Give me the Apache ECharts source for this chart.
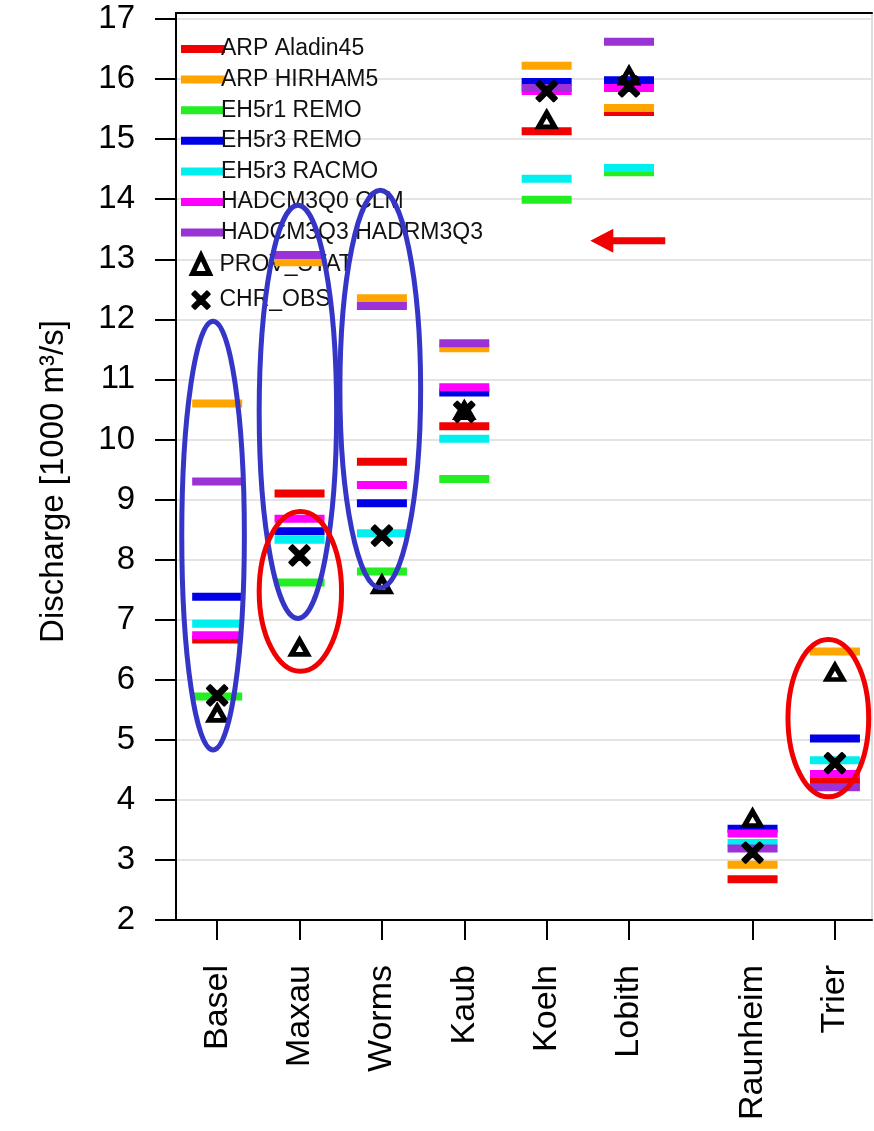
<!DOCTYPE html>
<html>
<head>
<meta charset="utf-8">
<script src="https://cdn.jsdelivr.net/npm/echarts@6/dist/echarts.min.js"></script>
<style>
html,body{margin:0;padding:0;background:#fff;}
#show{width:874px;height:1131px;}
</style>
</head>
<body>
<div id="show"></div>
<script>
// stations and their x positions (gap before Raunheim)
var stations = ['Basel','Maxau','Worms','Kaub','Koeln','Lobith','Raunheim','Trier'];
var stationPos = [1,2,3,4,5,6,7.5,8.5];
var yTicks = [2,3,4,5,6,7,8,9,10,11,12,13,14,15,16,17];

// discharge [1000 m3/s] per model, same order as stations
var aladin   = [6.67, 9.10, 9.63, 10.22, 15.13, 15.45, 2.68, 4.33];
var hirham   = [10.60, 12.95, 12.35, 11.52, 16.22, 15.52, 2.92, 6.47];
var eh5r1    = [5.72, 7.62, 7.80, 9.34, 13.99, 14.45, null, null];
var eh5r3    = [7.38, 8.47, 8.94, 10.78, 15.95, 15.98, 3.52, 5.02];
var racmo    = [6.93, 8.33, 8.44, 10.01, 14.34, 14.52, 3.28, 4.66];
var hadq0    = [6.74, 8.68, 9.24, 10.87, 15.80, 15.85, 3.44, 4.43];
var hadq3    = [9.30, 13.07, 12.22, 11.60, 15.85, 16.62, 3.19, 4.21];
var provStat = [5.44, 6.54, 7.58, 10.48, 15.32, 16.05, 3.69, 6.12];
var chrObs   = [5.74, 8.07, 8.40, 10.46, 15.80, 15.88, 3.12, 4.61];

var models = [
    {name:'ARP Aladin45', color:'#f00000', data:aladin},
    {name:'ARP HIRHAM5', color:'#ffa500', data:hirham},
    {name:'EH5r1 REMO', color:'#22ee22', data:eh5r1},
    {name:'EH5r3 REMO', color:'#0000e6', data:eh5r3},
    {name:'EH5r3 RACMO', color:'#00f0f0', data:racmo},
    {name:'HADCM3Q0 CLM', color:'#ff00ff', data:hadq0},
    {name:'HADCM3Q3 HADRM3Q3', color:'#9a32d6', data:hadq3}
];

// hand drawn marks on the figure, in data units
var ellipses = [
    {x:0.95, y:8.40, rx:0.38, ry:3.57, color:'#3535c8'},
    {x:1.98, y:10.46, rx:0.47, ry:3.44, color:'#3535c8'},
    {x:2.98, y:10.84, rx:0.49, ry:3.31, color:'#3535c8'},
    {x:2.01, y:7.47, rx:0.50, ry:1.33, color:'#f00000'},
    {x:8.42, y:5.36, rx:0.49, ry:1.31, color:'#f00000'}
];
var arrowTail = [6.44, 13.31];
var arrowTip = [5.53, 13.31];

var xPath = 'path://M0,3 L3,0 L10,7 L17,0 L20,3 L13,10 L20,17 L17,20 L10,13 L3,20 L0,17 L7,10 Z';
var font = 'Liberation Sans, Arimo, Helvetica, sans-serif';
var triStyle = {color: 'rgba(255,255,255,0)', borderColor: '#000', borderWidth: 5, opacity: 1};
var xStyle = {color: '#000', borderColor: '#000', borderWidth: 2.5, borderJoin: 'round', opacity: 1};

function pairs(vals) {
    var out = [];
    for (var i = 0; i < vals.length; i++) {
        if (vals[i] != null) out.push([stationPos[i], vals[i]]);
    }
    return out;
}

var myChart = echarts.init(document.getElementById('show'));

var series = [];
for (var i = 0; i < models.length; i++) {
    series.push({
        name: models[i].name,
        type: 'scatter',
        symbol: 'rect',
        symbolSize: [50, 8],
        itemStyle: {color: models[i].color, opacity: 1},
        data: pairs(models[i].data),
        z: 3
    });
}
series.push({
    name: 'PROV_STAT',
    type: 'scatter',
    symbol: 'triangle',
    symbolSize: [16, 14],
    itemStyle: triStyle,
    data: pairs(provStat),
    z: 4
});
series.push({
    name: 'CHR_OBS',
    type: 'scatter',
    symbol: xPath,
    symbolSize: 20,
    itemStyle: xStyle,
    data: pairs(chrObs),
    z: 5
});

var option = {
    animation: false,
    backgroundColor: '#fff',
    textStyle: {fontFamily: font},
    grid: {left: 176, right: 2, top: 13, bottom: 211, outerBoundsMode: 'none', containLabel: false},
    legend: [
        {
            orient: 'vertical',
            left: 176, top: 32,
            itemWidth: 44, itemHeight: 8, itemGap: 6.6,
            icon: 'rect',
            z: 1,
            selectedMode: false,
            textStyle: {fontSize: 23, color: '#111', lineHeight: 24, padding: [0, 0, 0, -9], fontFamily: font},
            data: models.map(function (m) { return m.name; })
        },
        {
            orient: 'vertical',
            left: 185, top: 248,
            itemWidth: 17, itemHeight: 18, itemGap: 12.6,
            z: 1,
            selectedMode: false,
            textStyle: {fontSize: 23, color: '#111', lineHeight: 18, padding: [0, 0, 0, 5], fontFamily: font},
            data: [
                {name: 'PROV_STAT', icon: 'triangle', itemStyle: triStyle},
                {name: 'CHR_OBS', icon: xPath, itemStyle: xStyle}
            ]
        }
    ],
    xAxis: [
        {
            type: 'value',
            min: 0.5, max: 8.95,
            axisLine: {show: true, lineStyle: {color: '#000', width: 2}},
            axisTick: {show: true, length: 20, customValues: stationPos, lineStyle: {color: '#000', width: 2}},
            axisLabel: {
                customValues: stationPos,
                rotate: 90,
                margin: 45,
                fontSize: 34,
                color: '#000',
                fontFamily: font,
                formatter: function (v) {
                    var k = stationPos.indexOf(v);
                    return k >= 0 ? stations[k] : '';
                }
            },
            splitLine: {show: false}
        },
        {
            type: 'value', position: 'top',
            min: 0.5, max: 8.95,
            axisLine: {show: true, lineStyle: {color: '#000', width: 2}},
            axisTick: {show: false}, axisLabel: {show: false}, splitLine: {show: false}
        }
    ],
    yAxis: [
        {
            type: 'value',
            min: 2, max: 17.1,
            name: 'Discharge [1000 m³/s]',
            nameLocation: 'middle',
            nameGap: 106,
            nameTextStyle: {fontSize: 33, color: '#000', fontFamily: font, padding: [0, 30, 0, 0]},
            axisLine: {show: true, lineStyle: {color: '#000', width: 2}},
            axisTick: {show: true, length: 21, customValues: yTicks, lineStyle: {color: '#000', width: 2}},
            axisLabel: {customValues: yTicks, margin: 41, fontSize: 33, color: '#000', fontFamily: font},
            splitLine: {show: true, lineStyle: {color: '#e4e4e4', width: 2}}
        },
        {
            type: 'value', position: 'right',
            min: 2, max: 17.1,
            axisLine: {show: true, lineStyle: {color: '#dddddd', width: 2}},
            axisTick: {show: false}, axisLabel: {show: false}, splitLine: {show: false}
        }
    ],
    series: series
};
myChart.setOption(option);

// annotations: convert data positions to pixels
function px(p) {
    return myChart.convertToPixel({xAxisIndex: 0, yAxisIndex: 0}, p);
}
var graphics = [];
ellipses.forEach(function (e) {
    var c = px([e.x, e.y]);
    var k = px([e.x + e.rx, e.y + e.ry]);
    graphics.push({
        type: 'ellipse',
        z: 100,
        shape: {cx: c[0], cy: c[1], rx: k[0] - c[0], ry: c[1] - k[1]},
        style: {fill: null, stroke: e.color, lineWidth: 5}
    });
});
var t = px(arrowTip), s = px(arrowTail);
graphics.push({
    type: 'polygon',
    z: 100,
    shape: {points: [
        [t[0], t[1]], [t[0] + 23, t[1] - 12], [t[0] + 23, t[1] - 3.5], [s[0], t[1] - 3.5],
        [s[0], t[1] + 3.5], [t[0] + 23, t[1] + 3.5], [t[0] + 23, t[1] + 12]
    ]},
    style: {fill: '#f00000'}
});
myChart.setOption({graphic: graphics});
</script>
</body>
</html>
